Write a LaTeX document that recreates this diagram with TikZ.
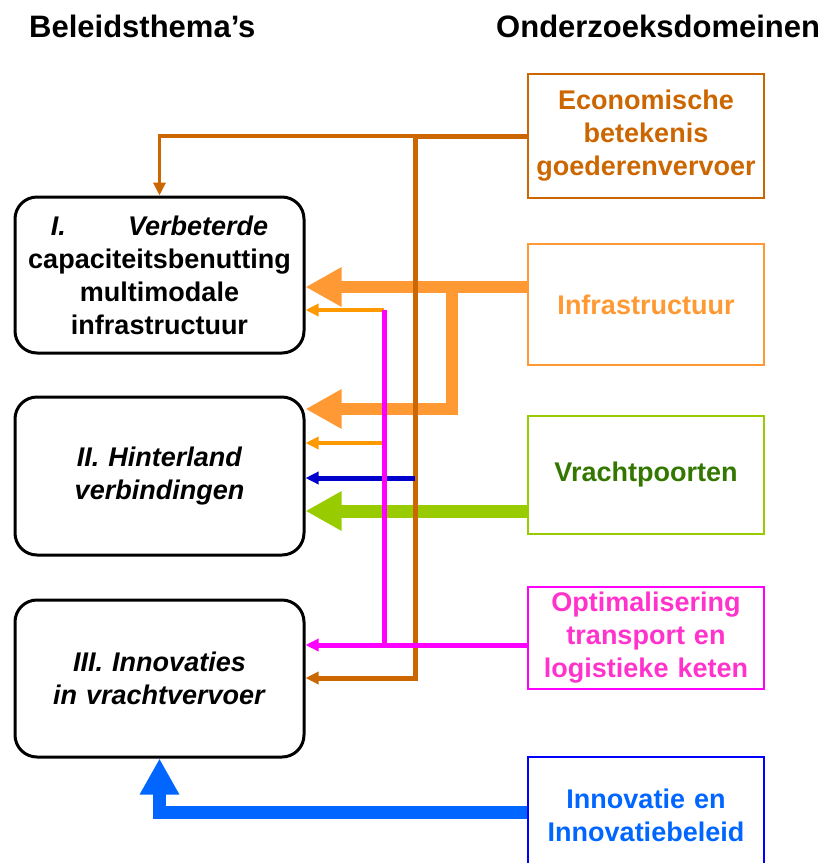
\documentclass[tikz,border=0pt]{standalone}
\usepackage{fontspec}
\setmainfont{Liberation Sans}
\usetikzlibrary{arrows.meta}
\definecolor{econC}{HTML}{CC6600}
\definecolor{infraC}{HTML}{FF9933}
\definecolor{orangeC}{HTML}{FF9900}
\definecolor{greenC}{HTML}{99CC00}
\definecolor{greenT}{HTML}{337700}
\definecolor{magC}{HTML}{FF00FF}
\definecolor{magT}{HTML}{FF33CC}
\definecolor{innovC}{HTML}{0066FF}
\definecolor{innovB}{HTML}{0000FF}
\definecolor{dblue}{HTML}{0000CC}
\tikzset{
  themebox/.style={draw=black, line width=3pt, rounded corners=22pt,
    minimum width=289pt, text width=280pt, inner sep=0pt, align=center,
    font=\fontsize{27}{33}\selectfont\bfseries},
  domainbox/.style={draw=#1, line width=2.6pt, minimum width=236pt,
    text width=232pt, inner sep=0pt, align=center,
    font=\fontsize{27}{33}\selectfont\bfseries},
  titletext/.style={anchor=base west, inner sep=0pt,
    font=\fontsize{31}{36}\selectfont\bfseries},
  bigarrow/.style={line width=12pt, -{Triangle[length=36pt,width=37pt]}},
  smallarrow/.style={line width=4pt, -{Triangle[length=13pt,width=12pt]}}
}
\begin{document}
\begin{tikzpicture}[x=1pt,y=-1pt]
\useasboundingbox (0,0) rectangle (823,863);
\clip (0,0) rectangle (823,863);

% titles
\node[titletext] (t1) at (29,37) {Beleidsthema’s};
\node[titletext] (t2) at (496,37) {Onderzoeksdomeinen};

% left boxes
\node[themebox, minimum height=156pt] (boxI) at (159.5,275)
  {\textit{I.\hspace{2.3em}Verbeterde}\\capaciteitsbenutting\\multimodale\\infrastructuur};
\node[themebox, minimum height=158pt] (boxII) at (159.5,476)
  {\textit{II. Hinterland}\\\textit{verbindingen}};
\node[themebox, minimum height=157pt] (boxIII) at (159.5,678.5)
  {\textit{III. Innovaties}\\\textit{in vrachtvervoer}};

% right boxes
\node[domainbox=econC, minimum height=124pt, text=econC] (econ) at (646,136)
  {Economische\\betekenis\\goederenvervoer};
\node[domainbox=infraC, minimum height=121pt, text=infraC] (infra) at (646,304.5)
  {Infrastructuur};
\node[domainbox=greenC, minimum height=118pt, text=greenT] (vracht) at (646,475)
  {Vrachtpoorten};
\node[domainbox=magC, minimum height=102pt, text=magT] (optim) at (646,638)
  {Optimalisering\\transport en\\logistieke keten};
\node[domainbox=innovB, minimum height=116pt, text=innovC] (innov) at (646,815)
  {Innovatie en\\Innovatiebeleid};

% junction coordinates
\coordinate (i1) at (452,287);
\coordinate (i2) at (452,409);
\coordinate (g1) at (452,511);
\coordinate (n1) at (160,812);
\coordinate (v1) at (415,678);
\coordinate (v2) at (415,478);
\coordinate (m1) at (384,310);
\coordinate (m2) at (384,645);
\coordinate (m3) at (384,443);

% thick arrows
\draw[bigarrow, infraC] (infra.west |- i1) -- (boxI.east |- i1);
\draw[bigarrow, infraC] (i1) -- (i2) -- (boxII.east |- i2);
\draw[bigarrow, line width=13pt, greenC] (vracht.west |- g1) -- (boxII.east |- g1);
\draw[bigarrow, line width=13pt, innovC] (innov.west |- n1) -| (boxIII.south);

% economische betekenis
\draw[smallarrow, line width=3.5pt, econC] (econ.west) -| (boxI.north);
\draw[smallarrow, line width=5pt, econC] (econ.west) -| (v1) -- (boxIII.east |- v1);
\draw[smallarrow, line width=5pt, dblue] (v2) -- (boxII.east |- v2);

% thin orange
\draw[smallarrow, orangeC] (m1) -- (boxI.east |- m1);
\draw[smallarrow, orangeC] (m3) -- (boxII.east |- m3);

% optimalisering
\draw[line width=5pt, magC] (m1) -- (m2);
\draw[smallarrow, line width=5pt, magC] (optim.west |- m2) -- (boxIII.east |- m2);
\end{tikzpicture}
\end{document}
